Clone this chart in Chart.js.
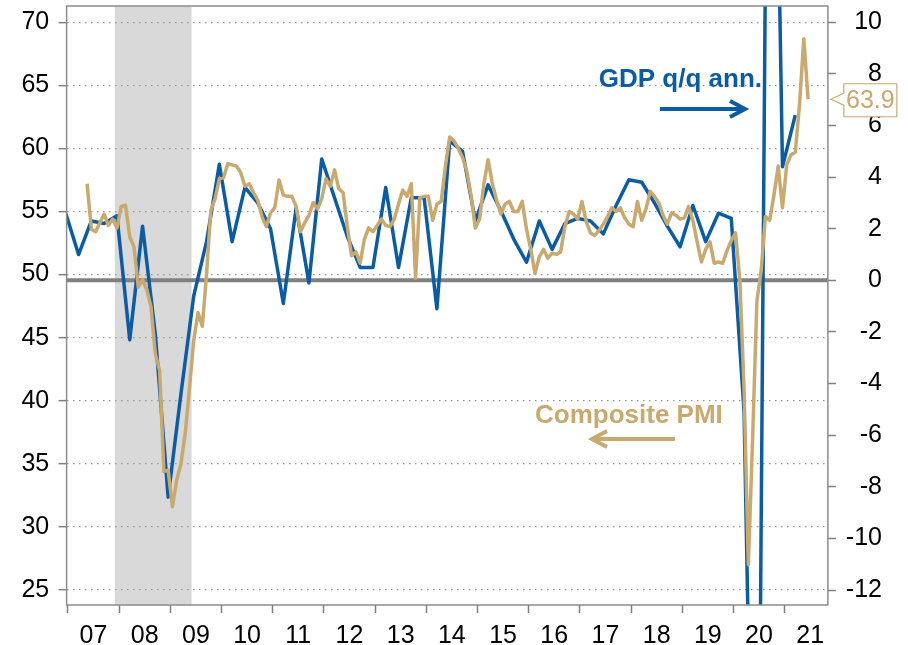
<!DOCTYPE html>
<html>
<head>
<meta charset="utf-8">
<script src="https://cdn.jsdelivr.net/npm/chart.js@4.4.1/dist/chart.umd.min.js"></script>
<style>
  html, body { margin: 0; padding: 0; background: #fff; }
  #wrap { width: 908px; height: 645px; }
</style>
</head>
<body>
<div id="wrap"><canvas id="gdp-pmi-graph"></canvas></div>
<script>
// GDP, % q/q annualised, quarterly, first value is 2006 Q4
var gdpFirstQuarter = [2006, 4];
var gdpValues = [
    2.6,
    1.0, 2.3, 2.2, 2.5,
    -2.3, 2.1, -2.1, -8.4,
    -4.4, -0.6, 1.5, 4.5,
    1.5, 3.6, 3.0, 2.0,
    -0.9, 2.8, -0.1, 4.7,
    3.2, 1.7, 0.5, 0.5,
    3.6, 0.5, 3.2, 3.2,
    -1.1, 5.4, 5.0, 2.3,
    3.7, 2.7, 1.6, 0.7,
    2.3, 1.2, 2.2, 2.4,
    2.3, 1.8, 2.9, 3.9,
    3.8, 3.0, 2.1, 1.3,
    2.9, 1.5, 2.6, 2.4,
    -5.1, -31.2, 33.8, 4.4,
    6.4
];

// Composite PMI, monthly, first value is May 2007
var pmiFirstMonth = [2007, 5];
var pmiValues = [
    57.2, 53.6, 53.4, 54.1, 54.8, 53.9, 54.4, 53.7,
    55.4, 55.5, 53.0, 52.2, 49.0, 49.6, 48.8, 47.4, 43.7, 42.4, 34.4, 34.5,
    31.6, 33.7, 35.0, 37.4, 41.0, 44.8, 47.0, 45.9, 50.0, 55.1, 56.0, 57.6,
    57.7, 58.8, 58.7, 58.6, 58.1, 57.0, 57.2, 56.5, 55.9, 54.6, 53.8, 54.9,
    55.3, 57.5, 56.3, 56.2, 56.2, 55.4, 53.4, 54.1, 54.7, 55.7, 55.2, 56.0,
    57.6, 57.0, 58.3, 56.8, 56.5, 53.8, 51.5, 51.8, 50.9, 52.8, 53.7, 53.4,
    53.9, 54.4, 53.9, 53.8, 54.4, 55.6, 56.7, 56.2, 57.2, 49.7, 56.1, 56.2,
    56.2, 54.3, 55.6, 55.8, 58.6, 60.9, 60.6, 60.0, 59.3, 58.2, 56.3, 53.7,
    54.4, 57.2, 59.1, 57.2, 55.9, 54.8, 55.6, 55.8, 55.0, 55.0, 55.8, 53.6,
    52.0, 50.1, 51.4, 52.0, 51.3, 51.7, 51.6, 51.8, 53.8, 55.0, 54.8, 54.4,
    55.8, 54.2, 53.3, 53.1, 53.5, 54.0, 54.6, 55.3, 55.0, 55.3, 54.5, 54.0,
    53.8, 55.8, 54.3, 55.2, 56.6, 56.2, 55.7, 54.7, 54.0, 54.9, 54.7, 54.4,
    54.5, 55.4, 54.3, 52.6, 51.0, 52.0, 52.6, 50.9, 51.0, 50.9, 51.9, 52.7,
    53.3, 49.6, 40.9, 27.0, 37.0, 47.9, 50.3, 54.6, 54.3, 56.3, 58.6, 55.3,
    58.7, 59.5, 59.7, 63.5, 68.7, 63.9
];

var yearTicks = [2007, 2008, 2009, 2010, 2011, 2012, 2013, 2014, 2015, 2016, 2017, 2018, 2019, 2020, 2021];
var pmiTicks = [25, 30, 35, 40, 45, 50, 55, 60, 65, 70];
var gdpTicks = [-12, -10, -8, -6, -4, -2, 0, 2, 4, 6, 8, 10];
var recessionMonths = [[2007, 12], [2009, 6]];  // shaded from start of first to start of second
var gdpZero = 0;

var xMin = 2006.975, xMax = 2021.845;

var BLUE = '#0a5ca6';
var GOLD = '#c9a96e';
var FONT = '"Liberation Sans", Arial, Helvetica, sans-serif';

var gdpPoints = gdpValues.map(function(v, i) {
    var q = gdpFirstQuarter[1] - 1 + i;
    return { x: gdpFirstQuarter[0] + (q * 3 + 2.5) / 12, y: v };
});
var pmiPoints = pmiValues.map(function(v, i) {
    var m = pmiFirstMonth[1] - 1 + i;
    return { x: pmiFirstMonth[0] + (m + 0.5) / 12, y: v };
});

function arrow(ctx, x1, x2, y, color) {
    var dir = x2 > x1 ? 1 : -1;
    ctx.save();
    ctx.strokeStyle = color;
    ctx.lineWidth = 4;
    ctx.beginPath();
    ctx.moveTo(x1, y);
    ctx.lineTo(x2 - dir * 2, y);
    ctx.stroke();
    ctx.beginPath();
    ctx.moveTo(x2 - dir * 15, y - 8);
    ctx.lineTo(x2, y);
    ctx.lineTo(x2 - dir * 15, y + 8);
    ctx.stroke();
    ctx.restore();
}

var extras = {
    id: 'extras',
    beforeDraw: function(chart) {
        var a = chart.chartArea, x = chart.scales.x, ctx = chart.ctx;
        var s = x.getPixelForValue(recessionMonths[0][0] + (recessionMonths[0][1] - 1) / 12);
        var e = x.getPixelForValue(recessionMonths[1][0] + (recessionMonths[1][1] - 1) / 12);
        ctx.save();
        ctx.fillStyle = '#d9d9d9';
        ctx.fillRect(s, a.top, e - s, a.bottom - a.top);
        ctx.restore();
    },
    afterDatasetsDraw: function(chart) {
        var a = chart.chartArea, ctx = chart.ctx;
        ctx.save();
        ctx.strokeStyle = '#8c8c8c';
        ctx.lineWidth = 1.5;
        ctx.strokeRect(a.left, a.top, a.right - a.left, a.bottom - a.top);
        ctx.restore();
    },
    afterDraw: function(chart) {
        var ctx = chart.ctx, a = chart.chartArea;
        ctx.save();
        ctx.font = 'bold 26px ' + FONT;
        ctx.textBaseline = 'alphabetic';
        ctx.fillStyle = BLUE;
        ctx.textAlign = 'right';
        ctx.fillText('GDP q/q ann.', 762, 87);
        arrow(ctx, 660, 745, 109, BLUE);
        ctx.fillStyle = GOLD;
        ctx.textAlign = 'left';
        ctx.fillText('Composite PMI', 535, 423);
        arrow(ctx, 675, 592, 439, GOLD);

        // callout with the latest PMI reading
        var last = pmiValues[pmiValues.length - 1];
        var yv = chart.scales.y.getPixelForValue(last);
        var tipX = a.right + 3, bx = tipX + 13, bw = 53, bh = 33;
        var by = yv - bh / 2 + 1;
        ctx.beginPath();
        ctx.moveTo(tipX, yv);
        ctx.lineTo(bx, yv - 6);
        ctx.lineTo(bx, by);
        ctx.lineTo(bx + bw, by);
        ctx.lineTo(bx + bw, by + bh);
        ctx.lineTo(bx, by + bh);
        ctx.lineTo(bx, yv + 6);
        ctx.closePath();
        ctx.fillStyle = '#fff';
        ctx.fill();
        ctx.strokeStyle = GOLD;
        ctx.lineWidth = 1.2;
        ctx.stroke();
        ctx.fillStyle = GOLD;
        ctx.font = '25px ' + FONT;
        ctx.textAlign = 'center';
        ctx.textBaseline = 'middle';
        ctx.fillText(last.toFixed(1), bx + bw / 2, by + bh / 2 + 1);
        ctx.restore();
    }
};

function noPad(scale) {
    scale.paddingTop = 0;
    scale.paddingBottom = 0;
    scale.paddingLeft = 0;
    scale.paddingRight = 0;
}

var ctx = document.getElementById('gdp-pmi-graph').getContext('2d');
var gdpPmiChart = new Chart(ctx, {
    type: 'line',
    data: {
        datasets: [{
            label: 'Composite PMI',
            data: pmiPoints,
            yAxisID: 'y',
            borderColor: GOLD,
            borderWidth: 3.5,
            pointRadius: 0,
            borderJoinStyle: 'round',
            clip: 0,
            order: 0
        }, {
            label: 'GDP q/q ann.',
            data: gdpPoints,
            yAxisID: 'y1',
            borderColor: BLUE,
            borderWidth: 3.5,
            pointRadius: 0,
            borderJoinStyle: 'round',
            clip: 0,
            order: 1
        }, {
            label: 'zero',
            data: [{ x: xMin, y: gdpZero }, { x: xMax, y: gdpZero }],
            yAxisID: 'y1',
            borderColor: '#808080',
            borderWidth: 4,
            pointRadius: 0,
            clip: 0,
            order: 2
        }]
    },
    options: {
        responsive: true,
        maintainAspectRatio: false,
        animation: false,
        devicePixelRatio: 1,
        layout: { padding: { left: 12, right: 26, top: 6, bottom: -14 } },
        plugins: { legend: { display: false }, tooltip: { enabled: false } },
        scales: {
            x: {
                type: 'linear',
                min: xMin,
                max: xMax,
                afterBuildTicks: function(axis) {
                    axis.ticks = yearTicks.map(function(v) { return { value: v }; });
                },
                afterFit: noPad,
                grid: { drawOnChartArea: false, tickLength: 8, tickColor: '#808080', tickWidth: 1.5 },
                border: { display: false },
                ticks: {
                    autoSkip: false,
                    maxRotation: 0,
                    labelOffset: 25.6,
                    padding: 10.5,
                    color: '#000',
                    font: { family: FONT, size: 25, lineHeight: 1 },
                    callback: function(v) { return String(v % 100).padStart(2, '0'); }
                }
            },
            y: {
                position: 'left',
                min: 23.81,
                max: 71.29,
                afterBuildTicks: function(axis) {
                    axis.ticks = pmiTicks.map(function(v) { return { value: v }; });
                },
                afterFit: noPad,
                grid: { color: '#9a9a9a', lineWidth: 1.3, tickLength: 8, tickColor: '#808080', tickWidth: 1.5 },
                border: { display: false, dash: [1.5, 4.5] },
                ticks: { padding: 9.4, color: '#000', font: { family: FONT, size: 25 } }
            },
            y1: {
                position: 'right',
                min: -12.58,
                max: 10.63,
                afterBuildTicks: function(axis) {
                    axis.ticks = gdpTicks.map(function(v) { return { value: v }; });
                },
                afterFit: noPad,
                grid: { drawOnChartArea: false, tickLength: 8, tickColor: '#808080', tickWidth: 1.5 },
                border: { display: false },
                ticks: { padding: 5, crossAlign: 'far', color: '#000', font: { family: FONT, size: 25 } }
            }
        }
    },
    plugins: [extras]
});
</script>
</body>
</html>
